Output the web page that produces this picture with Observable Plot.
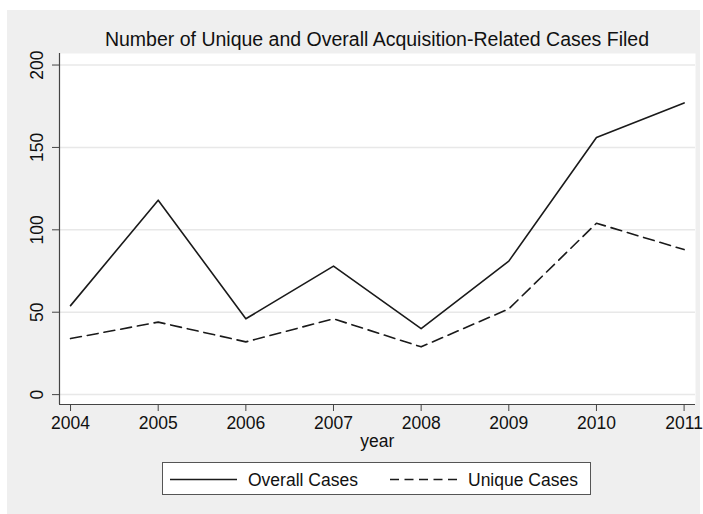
<!DOCTYPE html>
<html>
<head>
<meta charset="utf-8">
<script src="https://cdn.jsdelivr.net/npm/d3@7"></script>
<script src="https://cdn.jsdelivr.net/npm/@observablehq/plot@0.6"></script>
<style>
  html, body { margin: 0; padding: 0; background: #ffffff; }
  #wrap { position: relative; width: 703px; height: 514px; overflow: hidden; font-family: "Liberation Sans", Arial, sans-serif; color: #111; }
  #bg { position: absolute; left: 7px; top: 10px; width: 693px; height: 504px; background: #efefef; }
  #title { position: absolute; left: 0; width: 754px; top: 28px; text-align: center; font-size: 19.5px; line-height: 22px; white-space: nowrap; }
  #chart { position: absolute; left: 0; top: 40px; }
  #legend { position: absolute; left: 162px; top: 462px; width: 429px; height: 33px; background: #fff; border: 1px solid #555; box-sizing: border-box; }
  #legend svg { position: absolute; left: 0; top: 0; }
</style>
</head>
<body>
<div id="wrap">
  <div id="bg"></div>
  <div id="title">Number of Unique and Overall Acquisition-Related Cases Filed</div>
  <div id="chart"></div>
  <div id="legend"></div>
</div>
<script>
const years = [2004, 2005, 2006, 2007, 2008, 2009, 2010, 2011];
const overallCases = [54, 118, 46, 78, 40, 81, 156, 177];
const uniqueCases = [34, 44, 32, 46, 29, 52, 104, 88];
const yTicks = [0, 50, 100, 150, 200];
const seriesNames = ["Overall Cases", "Unique Cases"];

const overall = years.map((y, i) => ({year: y, value: overallCases[i]}));
const unique = years.map((y, i) => ({year: y, value: uniqueCases[i]}));

const xDomain = [2003.874, 2011.13];
const yDomain = [-6, 207];
const axisColor = "#444";
const fontSize = "17.5px";

const chart = Plot.plot({
  width: 703,
  height: 420,
  marginTop: 13,
  marginBottom: 56,
  marginLeft: 59,
  marginRight: 8,
  style: {background: "transparent", fontFamily: "Liberation Sans, Arial, sans-serif", fontSize: fontSize, color: "#111"},
  x: {domain: xDomain, axis: null},
  y: {domain: yDomain, axis: null},
  marks: [
    Plot.frame({fill: "white", stroke: null}),
    Plot.ruleY(yTicks, {y: d => d, stroke: "#e8e8e8", strokeWidth: 1.5}),
    Plot.ruleX([xDomain[0]], {stroke: axisColor, strokeWidth: 1.2}),
    Plot.ruleY([yDomain[0]], {stroke: axisColor, strokeWidth: 1.2}),
    Plot.axisY({ticks: yTicks, tickSize: 7, tickFormat: () => "", stroke: axisColor, label: null}),
    Plot.text(yTicks, {y: d => d, text: d => String(d), frameAnchor: "left", dx: -22, rotate: -90, textAnchor: "middle", lineAnchor: "middle", fontSize: fontSize, fill: "#111"}),
    Plot.axisX({ticks: years, tickSize: 7, tickPadding: 5, tickFormat: d => String(d), fontSize: fontSize, stroke: axisColor, label: null}),
    Plot.text(["year"], {text: d => d, frameAnchor: "bottom", x: () => (years[0] + years[years.length - 1]) / 2, dy: 42, fontSize: fontSize, fill: "#111"}),
    Plot.line(overall, {x: "year", y: "value", stroke: "#1a1a1a", strokeWidth: 1.6}),
    Plot.line(unique, {x: "year", y: "value", stroke: "#1a1a1a", strokeWidth: 1.6, strokeDasharray: "11,6"})
  ]
});
document.getElementById("chart").appendChild(chart);

// Legend
const leg = d3.select("#legend").append("svg").attr("width", 429).attr("height", 33);
const entries = [
  {name: seriesNames[0], x0: 7, dash: null, tx: 85},
  {name: seriesNames[1], x0: 227, dash: "9,5.5", tx: 305}
];
entries.forEach(e => {
  leg.append("line").attr("x1", e.x0).attr("x2", e.x0 + 67).attr("y1", 16.5).attr("y2", 16.5)
    .attr("stroke", "#1a1a1a").attr("stroke-width", 1.6).attr("stroke-dasharray", e.dash);
  leg.append("text").attr("x", e.tx).attr("y", 16.5).attr("dy", "0.35em")
    .attr("font-family", "Liberation Sans, Arial, sans-serif").attr("font-size", fontSize).attr("fill", "#111").text(e.name);
});
</script>
</body>
</html>
